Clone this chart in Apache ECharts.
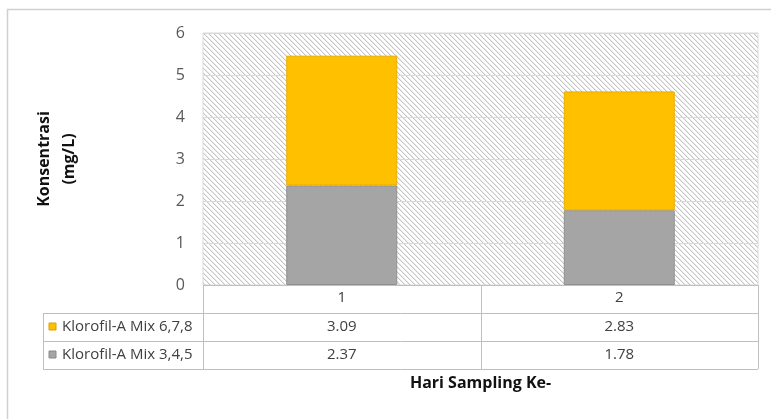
<!DOCTYPE html>
<html>
<head>
<meta charset="utf-8">
<script src="https://cdn.jsdelivr.net/npm/echarts@6/dist/echarts.min.js"></script>
<style>
  html, body { margin: 0; padding: 0; background: #ffffff; }
  #chart { width: 771px; height: 419px; }
</style>
</head>
<body>
<div id="chart"></div>
<script>
// Sampling days on the category axis
const categories = ['1', '2'];
// Stacked series (bottom first)
const mix345Name = 'Klorofil-A Mix 3,4,5';
const mix345 = [2.37, 1.78];
const mix678Name = 'Klorofil-A Mix 6,7,8';
const mix678 = [3.09, 2.83];
// Value axis range
const yMin = 0, yMax = 6, yStep = 1;

const FONT = '"Open Sans", Lato, sans-serif';
const COLOR_678 = '#FFC000';
const COLOR_345 = '#A5A5A5';

// Diagonal hatch used for the plot background
function hatchCanvas() {
  const n = 5;
  const c = document.createElement('canvas');
  c.width = n; c.height = n;
  const g = c.getContext('2d');
  g.fillStyle = '#ffffff';
  g.fillRect(0, 0, n, n);
  for (let i = 0; i < n; i++) {
    g.fillStyle = '#c4c4c4';
    g.fillRect(i, i, 1, 1);
    g.fillStyle = '#eaeaea';
    g.fillRect((i + 1) % n, i, 1, 1);
  }
  return c;
}

const chart = echarts.init(document.getElementById('chart'), null, { renderer: 'canvas' });

const grid = { left: 203, right: 13, top: 33, bottom: 134 };

chart.setOption({
  animation: false,
  backgroundColor: '#ffffff',
  grid: {
    show: true,
    left: grid.left, right: grid.right, top: grid.top, bottom: grid.bottom,
    backgroundColor: { image: hatchCanvas(), repeat: 'repeat' },
    borderColor: '#D9D9D9',
    borderWidth: 1
  },
  xAxis: {
    type: 'category',
    data: categories,
    axisLine: { show: false },
    axisTick: { show: false },
    axisLabel: { color: '#404040', fontFamily: FONT, fontSize: 15, margin: 5 },
    name: 'Hari Sampling Ke-',
    nameLocation: 'middle',
    nameGap: 90,
    nameTextStyle: { color: '#111111', fontFamily: FONT, fontSize: 16, fontWeight: 'bold' }
  },
  yAxis: {
    type: 'value',
    min: yMin, max: yMax, interval: yStep,
    axisLine: { show: false },
    axisTick: { show: false },
    axisLabel: { color: '#595959', fontFamily: FONT, fontSize: 16, margin: 18 },
    splitLine: { lineStyle: { color: '#D9D9D9', width: 1 } },
    name: 'Konsentrasi\n(mg/L)',
    nameLocation: 'middle',
    nameRotate: 90,
    nameGap: 121,
    nameTextStyle: { color: '#111111', fontFamily: FONT, fontSize: 16, fontWeight: 'bold', lineHeight: 25, align: 'center' }
  },
  series: [
    {
      name: mix345Name, type: 'bar', stack: 'total', data: mix345, barWidth: '40%',
      itemStyle: { color: COLOR_345, borderColor: '#909090', borderWidth: 1 }
    },
    {
      name: mix678Name, type: 'bar', stack: 'total', data: mix678, barWidth: '40%',
      itemStyle: { color: COLOR_678, borderColor: '#E8AE00', borderWidth: 1 }
    }
  ]
});

// Data table underneath the plot, aligned with the category axis
function buildTable() {
  const left = grid.left;
  const right = 771 - grid.right;
  const top = 419 - grid.bottom;
  const rowH = 28;
  const legendLeft = 43;
  const lineColor = '#BFBFBF';
  const rows = [
    { name: mix678Name, color: COLOR_678, values: mix678 },
    { name: mix345Name, color: COLOR_345, values: mix345 }
  ];
  const els = [];
  const hline = (x1, x2, y) => els.push({
    type: 'line', silent: true, z: 10,
    shape: { x1: x1, y1: y + 0.5, x2: x2, y2: y + 0.5 },
    style: { stroke: lineColor, lineWidth: 1 }
  });
  const vline = (x, y1, y2) => els.push({
    type: 'line', silent: true, z: 10,
    shape: { x1: x + 0.5, y1: y1, x2: x + 0.5, y2: y2 },
    style: { stroke: lineColor, lineWidth: 1 }
  });
  const bottom = top + rowH * (rows.length + 1);
  hline(left, right, top);
  for (let r = 1; r <= rows.length; r++) hline(legendLeft, right, top + rowH * r);
  hline(legendLeft, right, bottom);
  vline(legendLeft, top + rowH, bottom);
  // column separators halfway between category centres
  const centers = categories.map((c, i) => chart.convertToPixel({ xAxisIndex: 0 }, i));
  const band = centers.length > 1 ? centers[1] - centers[0] : (right - left);
  vline(left, top, bottom);
  centers.forEach(cx => vline(Math.round(cx + band / 2), top, bottom));

  rows.forEach((row, r) => {
    const cy = top + rowH * (r + 1) + rowH / 2;
    els.push({
      type: 'rect', silent: true, z: 11,
      shape: { x: 49, y: Math.round(cy - 4), width: 7, height: 7 },
      style: { fill: row.color, stroke: row.color === COLOR_678 ? '#D9A200' : '#8a8a8a', lineWidth: 1 }
    });
    els.push({
      type: 'text', silent: true, z: 11,
      style: { x: 62, y: cy, text: row.name, fill: '#404040', font: '15px ' + FONT, verticalAlign: 'middle', align: 'left' }
    });
    row.values.forEach((v, i) => {
      els.push({
        type: 'text', silent: true, z: 11,
        style: { x: centers[i], y: cy, text: v.toFixed(2), fill: '#404040', font: '15px ' + FONT, verticalAlign: 'middle', align: 'center' }
      });
    });
  });

  // outer chart frame
  els.push({
    type: 'rect', silent: true, z: 0,
    shape: { x: 7.5, y: 9.5, width: 900, height: 600 },
    style: { fill: null, stroke: '#D0D0D0', lineWidth: 1.5 }
  });
  return els;
}

chart.setOption({ graphic: { elements: buildTable() } });
</script>
</body>
</html>
